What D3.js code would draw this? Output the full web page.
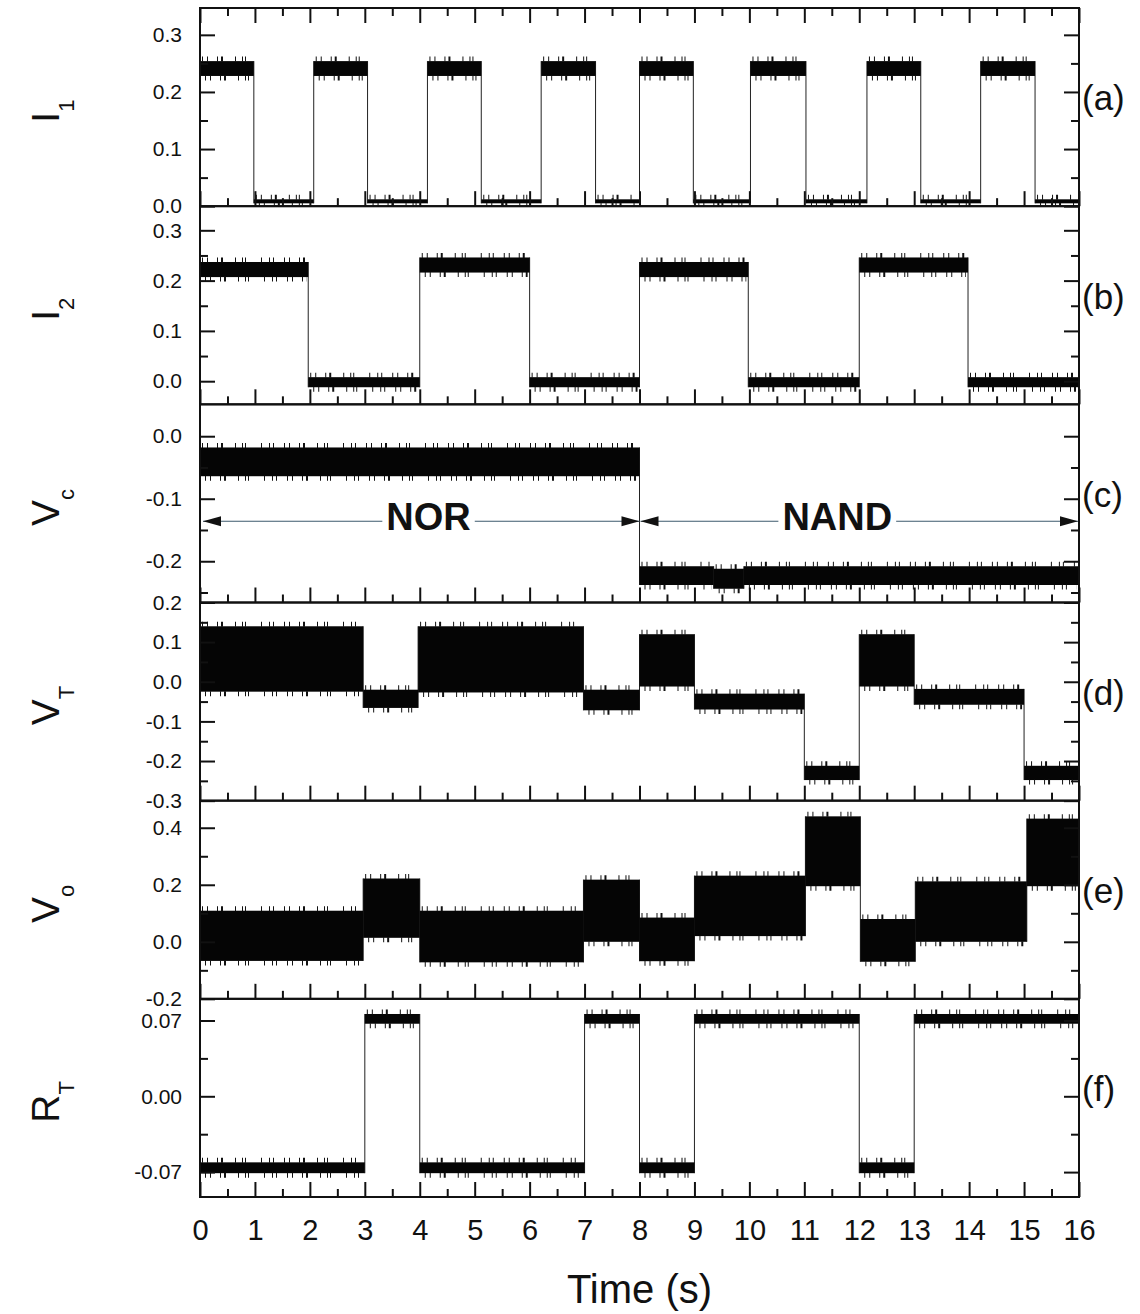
<!DOCTYPE html>
<html>
<head>
<meta charset="utf-8">
<script src="https://cdn.jsdelivr.net/npm/d3@7"></script>
<style>
  body { margin: 0; background: #fff; }
  text { font-family: "Liberation Sans", Arial, sans-serif; fill: #111; }
</style>
</head>
<body>
<svg id="chart" width="1140" height="1314"></svg>
<script>
// time axis (s)
const timeTicks = [0, 1, 2, 3, 4, 5, 6, 7, 8, 9, 10, 11, 12, 13, 14, 15, 16];
const timeMinor = [0.5, 1.5, 2.5, 3.5, 4.5, 5.5, 6.5, 7.5, 8.5, 9.5, 10.5, 11.5, 12.5, 13.5, 14.5, 15.5];

// each row: [start (s), end (s), band low, band high]
const i1Segments = [
  [0, 0.98, 0.228, 0.254], [0.98, 2.07, 0.005, 0.012],
  [2.07, 3.05, 0.228, 0.254], [3.05, 4.14, 0.005, 0.012],
  [4.14, 5.12, 0.228, 0.254], [5.12, 6.21, 0.005, 0.012],
  [6.21, 7.2, 0.228, 0.254], [7.2, 8.0, 0.005, 0.012],
  [8.0, 8.98, 0.228, 0.254], [8.98, 10.02, 0.005, 0.012],
  [10.02, 11.03, 0.228, 0.254], [11.03, 12.14, 0.005, 0.012],
  [12.14, 13.12, 0.228, 0.254], [13.12, 14.21, 0.005, 0.012],
  [14.21, 15.2, 0.228, 0.254], [15.2, 16, 0.005, 0.012],
];
const i2Segments = [
  [0, 1.97, 0.207, 0.237], [1.97, 4, -0.012, 0.008],
  [4, 6, 0.216, 0.246], [6, 8, -0.012, 0.008],
  [8, 9.98, 0.207, 0.237], [9.98, 12, -0.012, 0.008],
  [12, 13.98, 0.216, 0.246], [13.98, 16, -0.012, 0.008],
];
const vcSegments = [
  [0, 8, -0.064, -0.018], [8, 9.35, -0.238, -0.208],
  [9.35, 9.9, -0.244, -0.212], [9.9, 16, -0.238, -0.208],
];
const vtSegments = [
  [0, 2.97, -0.025, 0.14], [2.97, 3.97, -0.066, -0.02],
  [3.97, 6.98, -0.027, 0.14], [6.98, 8, -0.072, -0.02],
  [8, 9, -0.012, 0.12], [9, 11, -0.07, -0.03],
  [11, 12, -0.248, -0.212], [12, 13, -0.012, 0.12],
  [13, 15, -0.058, -0.018], [15, 16, -0.248, -0.212],
];
const voSegments = [
  [0, 2.97, -0.067, 0.109], [2.97, 4, 0.014, 0.222],
  [4, 6.98, -0.072, 0.109], [6.98, 8, 0.0, 0.218],
  [8, 9, -0.068, 0.085], [9, 11.02, 0.02, 0.232],
  [11.02, 12.02, 0.195, 0.44], [12.02, 13.02, -0.07, 0.08],
  [13.02, 15.05, 0.0, 0.212], [15.05, 16, 0.195, 0.432],
];
const rtSegments = [
  [0, 3, -0.071, -0.061], [3, 4, 0.067, 0.076],
  [4, 7, -0.071, -0.061], [7, 8, 0.067, 0.076],
  [8, 9, -0.071, -0.061], [9, 12, 0.067, 0.076],
  [12, 13, -0.071, -0.061], [13, 16, 0.067, 0.076],
];

const panelSegments = [i1Segments, i2Segments, vcSegments, vtSegments, voSegments, rtSegments];
const panelNames = ["I", "I", "V", "V", "V", "R"];
const panelSubs = ["1", "2", "c", "T", "o", "T"];
const panelTags = ["(a)", "(b)", "(c)", "(d)", "(e)", "(f)"];
const panelDomains = [[0, 0.347], [-0.046, 0.348], [-0.266, 0.051], [-0.3, 0.2], [-0.2, 0.495], [-0.093, 0.09]];
const panelMajor = [
  [0, 0.1, 0.2, 0.3], [0, 0.1, 0.2, 0.3], [-0.2, -0.1, 0],
  [-0.3, -0.2, -0.1, 0, 0.1, 0.2], [-0.2, 0, 0.2, 0.4], [-0.07, 0, 0.07],
];
const panelMinor = [
  [0.05, 0.15, 0.25], [0.05, 0.15, 0.25], [-0.25, -0.15, -0.05],
  [-0.25, -0.15, -0.05, 0.05, 0.15], [-0.1, 0.1, 0.3], [-0.035, 0.035],
];
const panelFormats = [".1f", ".1f", ".1f", ".1f", ".1f", ".2f"];

// NOR / NAND annotation in panel (c)
const modeLabels = ["NOR", "NAND"];
const modeSpans = [[0, 8], [8, 16]];
const modeLabelAt = [4.16, 11.6];
const modeLevel = -0.136;

const margin = { left: 200, right: 1079, top: 8, bottom: 1197 };
const majorLen = 15, minorLen = 8;
const locale = d3.formatLocale({ decimal: ".", thousands: ",", grouping: [3], currency: ["", ""], minus: "-" });

const svg = d3.select("#chart");
const x = d3.scaleLinear().domain([0, 16]).range([margin.left, margin.right]);
const panelHeight = (margin.bottom - margin.top) / 6;

function styleAxis(g) {
  g.select(".domain").remove();
  g.selectAll(".tick line").attr("stroke", "#111").attr("stroke-width", 2);
}

panelSegments.forEach((segments, i) => {
  const top = margin.top + i * panelHeight;
  const bottom = top + panelHeight;
  const y = d3.scaleLinear().domain(panelDomains[i]).range([bottom, top]);
  const g = svg.append("g").attr("class", "panel");

  const clipId = "clip" + i;
  svg.append("clipPath").attr("id", clipId)
    .append("rect").attr("x", margin.left).attr("y", top)
    .attr("width", margin.right - margin.left).attr("height", panelHeight);

  const trace = g.append("g").attr("clip-path", `url(#${clipId})`);

  // vertical jumps between levels
  trace.selectAll("line.jump")
    .data(segments.slice(1).map((s, k) => [segments[k], s]))
    .join("line")
    .attr("class", "jump")
    .attr("x1", (d) => x(d[1][0])).attr("x2", (d) => x(d[1][0]))
    .attr("y1", (d) => y(Math.max(d[0][3], d[1][3])))
    .attr("y2", (d) => y(Math.min(d[0][2], d[1][2])))
    .attr("stroke", "#222").attr("stroke-width", 1);

  // noisy band
  trace.selectAll("rect.band")
    .data(segments)
    .join("rect")
    .attr("class", "band")
    .attr("x", (d) => x(d[0]))
    .attr("width", (d) => x(d[1]) - x(d[0]))
    .attr("y", (d) => y(d[3]))
    .attr("height", (d) => y(d[2]) - y(d[3]))
    .attr("fill", "#050505");

  // spiky fringe on band edges
  const comb = "1 4 1 9 1 3 2 12 1 6 1 2 1 15 1 7 1 3 1 10";
  trace.selectAll("line.fringeTop")
    .data(segments)
    .join("line")
    .attr("x1", (d) => x(d[0]) + 2).attr("x2", (d) => x(d[1]) - 2)
    .attr("y1", (d) => y(d[3]) - 2).attr("y2", (d) => y(d[3]) - 2)
    .attr("stroke", "#111").attr("stroke-width", 5).attr("stroke-dasharray", comb);
  trace.selectAll("line.fringeBottom")
    .data(segments)
    .join("line")
    .attr("x1", (d) => x(d[0]) + 5).attr("x2", (d) => x(d[1]) - 2)
    .attr("y1", (d) => y(d[2]) + 2).attr("y2", (d) => y(d[2]) + 2)
    .attr("stroke", "#111").attr("stroke-width", 5).attr("stroke-dasharray", comb);

  // axes: ticks point inward on all sides
  const fmt = locale.format(panelFormats[i]);
  const left = g.append("g").attr("transform", `translate(${margin.left},0)`)
    .call(d3.axisLeft(y).tickValues(panelMajor[i]).tickFormat(fmt).tickSize(-majorLen).tickSizeOuter(0).tickPadding(18));
  styleAxis(left);
  left.selectAll("text").attr("font-size", 21).attr("font-family", "Liberation Sans, Arial, sans-serif").attr("fill", "#111");
  const leftMinor = g.append("g").attr("transform", `translate(${margin.left},0)`)
    .call(d3.axisLeft(y).tickValues(panelMinor[i]).tickFormat("").tickSize(-minorLen).tickSizeOuter(0));
  styleAxis(leftMinor);

  const right = g.append("g").attr("transform", `translate(${margin.right},0)`)
    .call(d3.axisRight(y).tickValues(panelMajor[i]).tickFormat("").tickSize(-majorLen).tickSizeOuter(0));
  styleAxis(right);
  const rightMinor = g.append("g").attr("transform", `translate(${margin.right},0)`)
    .call(d3.axisRight(y).tickValues(panelMinor[i]).tickFormat("").tickSize(-minorLen).tickSizeOuter(0));
  styleAxis(rightMinor);

  const bottomAxis = d3.axisBottom(x).tickValues(timeTicks).tickSize(-majorLen).tickSizeOuter(0).tickPadding(22);
  if (i < 5) bottomAxis.tickFormat("");
  const bot = g.append("g").attr("transform", `translate(0,${bottom})`).call(bottomAxis);
  styleAxis(bot);
  bot.selectAll("text").attr("font-size", 29).attr("font-family", "Liberation Sans, Arial, sans-serif").attr("fill", "#111");
  const botMinor = g.append("g").attr("transform", `translate(0,${bottom})`)
    .call(d3.axisBottom(x).tickValues(timeMinor).tickFormat("").tickSize(-minorLen).tickSizeOuter(0));
  styleAxis(botMinor);

  if (i === 0) {
    const topAxis = g.append("g").attr("transform", `translate(0,${top})`)
      .call(d3.axisTop(x).tickValues(timeTicks).tickFormat("").tickSize(-majorLen).tickSizeOuter(0));
    styleAxis(topAxis);
    const topMinor = g.append("g").attr("transform", `translate(0,${top})`)
      .call(d3.axisTop(x).tickValues(timeMinor).tickFormat("").tickSize(-minorLen).tickSizeOuter(0));
    styleAxis(topMinor);
  }

  // frame
  g.append("rect")
    .attr("x", margin.left).attr("y", top)
    .attr("width", margin.right - margin.left).attr("height", panelHeight)
    .attr("fill", "none").attr("stroke", "#111").attr("stroke-width", 2);

  // y title
  const cy = (top + bottom) / 2 + 4;
  const title = g.append("text")
    .attr("transform", `translate(59,${cy}) rotate(-90)`)
    .attr("text-anchor", "middle")
    .attr("font-size", 39);
  title.append("tspan").text(panelNames[i]);
  title.append("tspan").attr("font-size", 22).attr("dy", 15).text(panelSubs[i]);

  // panel tag
  g.append("text")
    .attr("x", 1082).attr("y", cy - 13)
    .attr("dy", "0.35em")
    .attr("font-size", 35)
    .text(panelTags[i]);

  if (i === 2) {
    const ay = y(modeLevel);
    const ann = g.append("g");
    modeLabels.forEach((label, k) => {
      const t = ann.append("text")
        .attr("x", x(modeLabelAt[k])).attr("y", ay + 9)
        .attr("text-anchor", "middle")
        .attr("font-size", 38).attr("font-weight", "bold")
        .text(label);
      const bb = t.node().getBBox();
      const x0 = x(modeSpans[k][0]) + (k === 0 ? 3 : 1);
      const x1 = x(modeSpans[k][1]) - (k === 0 ? 0 : 1);
      ann.append("line").attr("x1", x0).attr("x2", bb.x - 4).attr("y1", ay).attr("y2", ay)
        .attr("stroke", "#3d5a6c").attr("stroke-width", 1.2);
      ann.append("line").attr("x1", bb.x + bb.width + 4).attr("x2", x1).attr("y1", ay).attr("y2", ay)
        .attr("stroke", "#3d5a6c").attr("stroke-width", 1.2);
      ann.append("path").attr("d", `M${x0},${ay} l18,-5 l0,10 z`).attr("fill", "#111");
      ann.append("path").attr("d", `M${x1},${ay} l-18,-5 l0,10 z`).attr("fill", "#111");
    });
  }
});

svg.append("text")
  .attr("x", (margin.left + margin.right) / 2).attr("y", 1303)
  .attr("text-anchor", "middle")
  .attr("font-size", 40)
  .text("Time (s)");
</script>
</body>
</html>
